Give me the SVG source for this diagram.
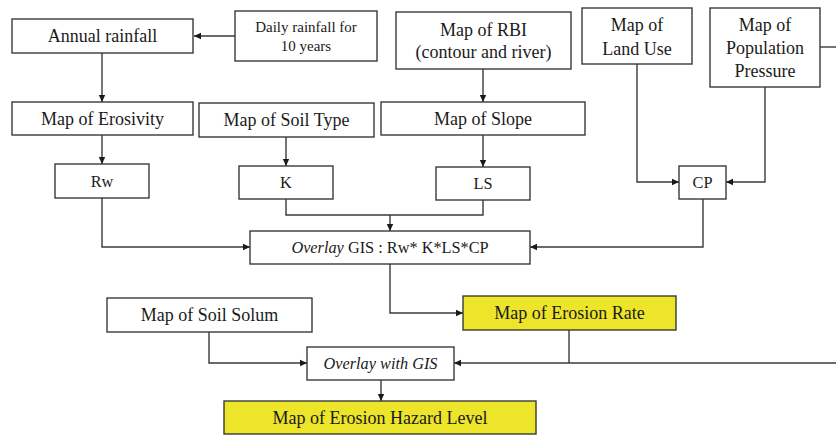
<svg xmlns="http://www.w3.org/2000/svg" width="836" height="435" viewBox="0 0 836 435">
<defs>
<marker id="ah" markerUnits="userSpaceOnUse" markerWidth="8" markerHeight="8" refX="7" refY="4" orient="auto">
<path d="M0,0.8 L7,4 L0,7.2 Z" fill="#1a1a1a"/>
</marker>
</defs>
<style>
.box{fill:#fff;stroke:#3a3a3a;stroke-width:1.4}
.hl{fill:#ede52a;stroke:#3a3a3a;stroke-width:1.4}
.t{font-family:"Liberation Serif","Times New Roman",serif;font-size:18px;fill:#1a1a1a;text-anchor:middle}
.s{font-size:15px}
.m{font-size:16.3px}
.i{font-style:italic}
.c{fill:none;stroke:#3a3a3a;stroke-width:1.4}
.a{marker-end:url(#ah)}
</style>
<rect width="836" height="435" fill="#fff"/>
<g id="connectors">
<path class="c a" d="M235,36 H194"/>
<path class="c a" d="M102,53 V102"/>
<path class="c a" d="M483,69 V102"/>
<path class="c a" d="M102,135 V164"/>
<path class="c a" d="M286,137 V166"/>
<path class="c a" d="M483,135 V167"/>
<path class="c" d="M286,199 V215 H483 V200"/>
<path class="c a" d="M390,215 V231"/>
<path class="c a" d="M102,198 V247 H250"/>
<path class="c a" d="M637,64 V182 H679"/>
<path class="c a" d="M765,87 V182 H726"/>
<path class="c a" d="M703,199 V247 H530"/>
<path class="c" d="M820,47 H836"/>
<path class="c a" d="M390,264 V313 H463"/>
<path class="c a" d="M209,332 V363 H307"/>
<path class="c" d="M569,330 V363"/>
<path class="c a" d="M836,363 H454"/>
<path class="c a" d="M381,380 V401"/>
</g>
<g id="annual"><rect class="box" x="12" y="19" width="181" height="34"/><text class="t" x="102.5" y="42">Annual rainfall</text></g>
<g id="daily"><rect class="box" x="235" y="11" width="142" height="50"/><text class="t s" x="306" y="32">Daily rainfall for</text><text class="t s" x="306" y="51">10 years</text></g>
<g id="rbi"><rect class="box" x="396" y="12" width="175" height="57"/><text class="t" x="483.5" y="36">Map of RBI</text><text class="t" x="483.5" y="58">(contour and river)</text></g>
<g id="landuse"><rect class="box" x="582" y="8" width="110" height="56"/><text class="t" x="637" y="31">Map of</text><text class="t" x="637" y="55">Land Use</text></g>
<g id="population"><rect class="box" x="710" y="8" width="110" height="79"/><text class="t" x="765" y="31">Map of</text><text class="t" x="765" y="54">Population</text><text class="t" x="765" y="77">Pressure</text></g>
<g id="erosivity"><rect class="box" x="12" y="102" width="181" height="33"/><text class="t" x="102.5" y="125">Map of Erosivity</text></g>
<g id="soiltype"><rect class="box" x="199" y="103" width="175" height="34"/><text class="t" x="286.5" y="126">Map of Soil Type</text></g>
<g id="slope"><rect class="box" x="381" y="102" width="204" height="33"/><text class="t" x="483" y="125">Map of Slope</text></g>
<g id="rw"><rect class="box" x="55" y="164" width="94" height="34"/><text class="t m" x="102" y="187">Rw</text></g>
<g id="k"><rect class="box" x="239" y="166" width="94" height="33"/><text class="t m" x="286" y="188">K</text></g>
<g id="ls"><rect class="box" x="436" y="167" width="94" height="33"/><text class="t m" x="483" y="189">LS</text></g>
<g id="cp"><rect class="box" x="679" y="166" width="47" height="33"/><text class="t m" x="702.5" y="188">CP</text></g>
<g id="overlay"><rect class="box" x="250" y="231" width="280" height="33"/><text class="t m" x="390" y="253"><tspan class="i">Overlay</tspan> GIS : Rw* K*LS*CP</text></g>
<g id="soilsolum"><rect class="box" x="107" y="298" width="205" height="34"/><text class="t" x="209.5" y="321">Map of Soil Solum</text></g>
<g id="erosionrate"><rect class="hl" x="463" y="296" width="213" height="34"/><text class="t" x="569.5" y="319">Map of Erosion Rate</text></g>
<g id="overlaygis"><rect class="box" x="307" y="347" width="147" height="33"/><text class="t m i" x="380.5" y="369">Overlay with GIS</text></g>
<g id="hazard"><rect class="hl" x="224" y="401" width="312" height="33"/><text class="t" x="380" y="424">Map of Erosion Hazard Level</text></g>
</svg>
